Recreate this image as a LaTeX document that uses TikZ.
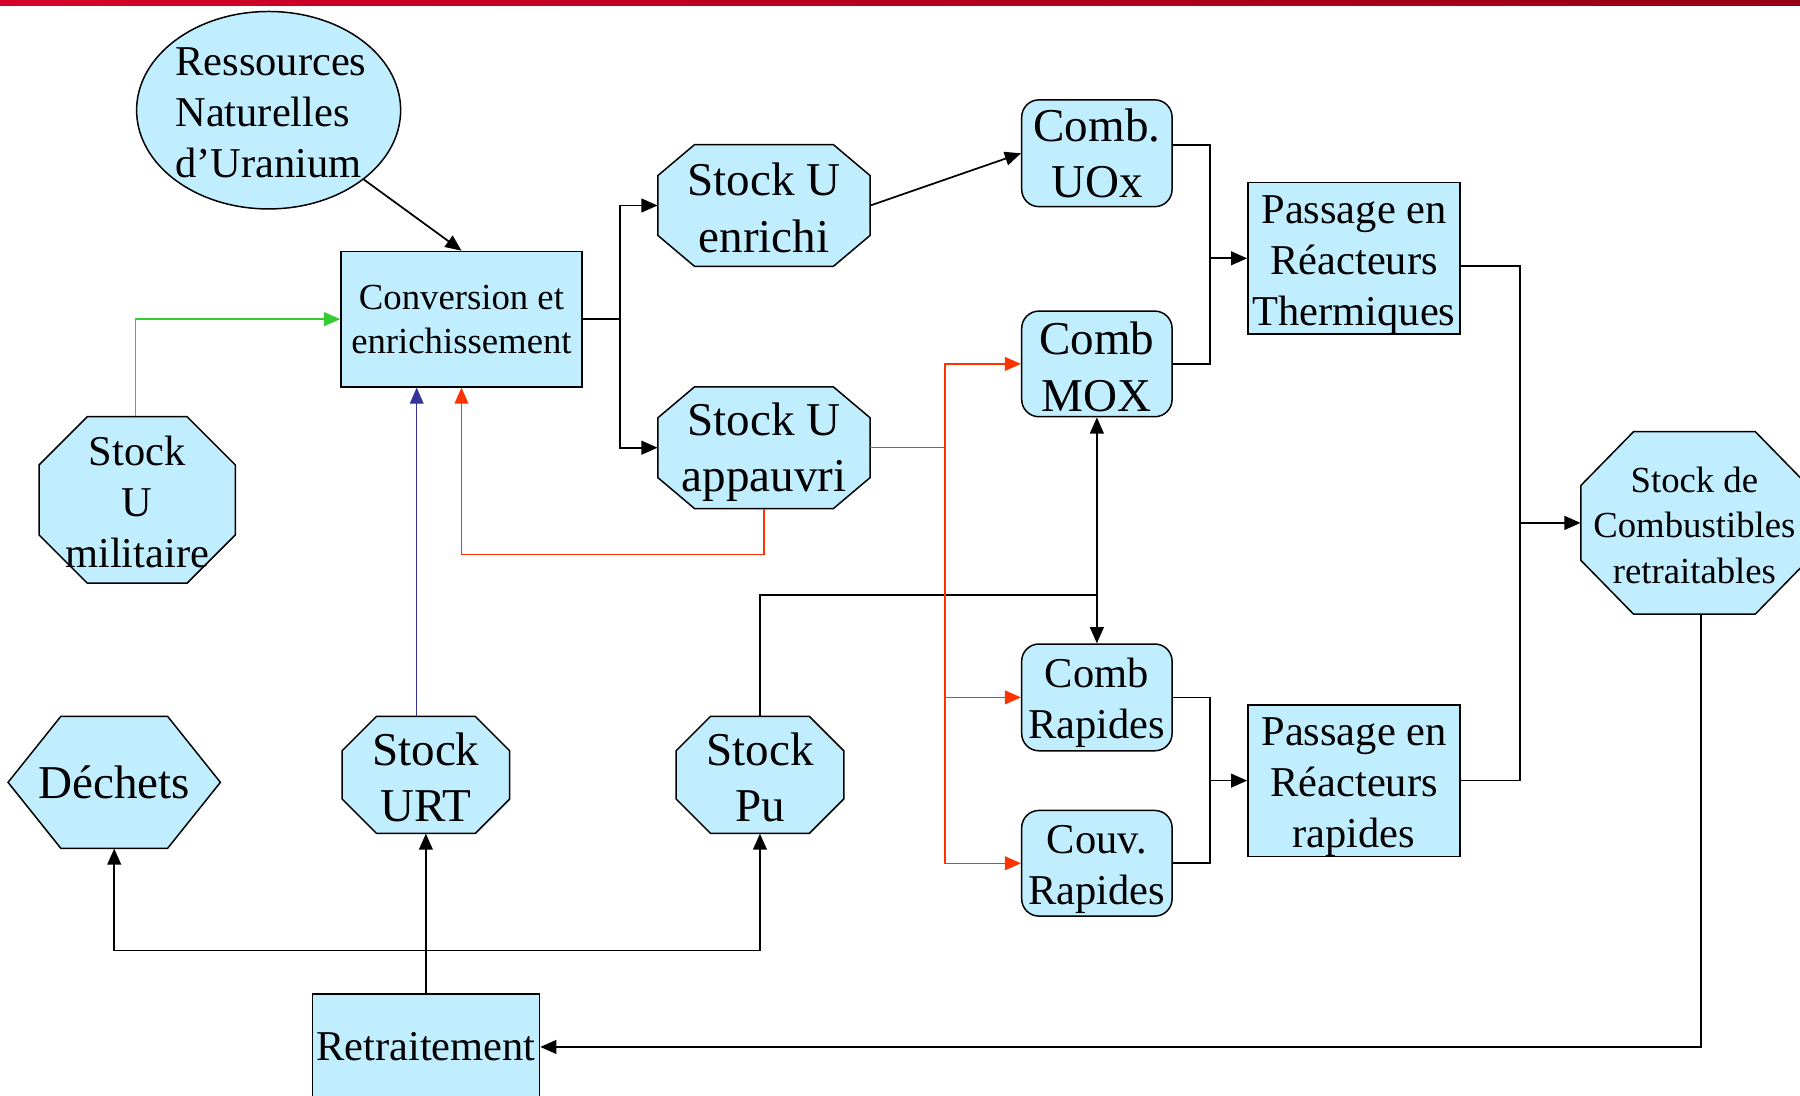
\documentclass[tikz,border=0pt]{standalone}
\usepackage{fontspec}
\setmainfont{Liberation Serif}
\usetikzlibrary{arrows.meta,shapes.geometric}

\definecolor{boxfill}{RGB}{192,238,255}
\definecolor{flowred}{RGB}{255,51,0}
\definecolor{flowblue}{RGB}{51,51,153}
\definecolor{flowgreen}{RGB}{51,204,51}
\definecolor{barleft}{RGB}{214,0,42}
\definecolor{barright}{RGB}{150,0,20}

\tikzset{
  shapeline/.style={draw=black, line width=1.3pt, fill=boxfill},
  txtA/.style={font=\fontsize{41}{49}\selectfont, align=center, inner sep=0pt},
  txtB/.style={font=\fontsize{37}{44.5}\selectfont, align=center, inner sep=0pt},
  txtC/.style={font=\fontsize{32}{38.5}\selectfont, align=center, inner sep=0pt},
  flow/.style={draw=black, line width=1.5pt},
  redflow/.style={draw=flowred, line width=1.3pt},
  blueflow/.style={draw=flowblue, line width=1pt},
  greenflow/.style={draw=flowgreen, line width=1.3pt},
  tip/.style={-{Triangle[length=14pt,width=12pt]}},
}

% octagon with chamfered corners: cx, cy, half width, half height, cut x, cut y
\newcommand\drawoct[6]{%
  \path[shapeline] ({#1-#3+#5},{#2-#4}) -- ({#1+#3-#5},{#2-#4})
    -- ({#1+#3},{#2-#4+#6}) -- ({#1+#3},{#2+#4-#6})
    -- ({#1+#3-#5},{#2+#4}) -- ({#1-#3+#5},{#2+#4})
    -- ({#1-#3},{#2+#4-#6}) -- ({#1-#3},{#2-#4+#6}) -- cycle;}
% hexagon with pointed sides: cx, cy, half width, half height, cut x
\newcommand\drawhex[5]{%
  \path[shapeline] ({#1-#3+#5},{#2-#4}) -- ({#1+#3-#5},{#2-#4})
    -- ({#1+#3},{#2}) -- ({#1+#3-#5},{#2+#4})
    -- ({#1-#3+#5},{#2+#4}) -- ({#1-#3},{#2}) -- cycle;}

\begin{document}
\begin{tikzpicture}[x=1pt,y=-1pt]
\useasboundingbox (0,0) rectangle (1568,954);
\clip (0,0) rectangle (1568,954);
\fill[white] (0,0) rectangle (1568,954);
\shade[left color=barleft, right color=barright] (0,0) rectangle (1568,5);

% ---- shapes ----
\node[shapeline, ellipse, minimum width=230pt, minimum height=172pt, inner sep=0pt] (res) at (234,96) {};
\node[txtB, align=left] at (236,98) {Ressources\\Naturelles\\d’Uranium};

\node[shapeline, rectangle, minimum width=210pt, minimum height=118pt, txtC] (conv) at (402,278) {Conversion et\\enrichissement};

\drawoct{665.5}{179}{92.5}{53}{32}{27}
\node[minimum width=185pt, minimum height=106pt] (enr) at (665.5,179) {};
\node[txtA] at (665.5,181) {Stock U\\enrichi};
\drawoct{665.5}{390}{92.5}{53}{32}{27}
\node[minimum width=185pt, minimum height=106pt] (app) at (665.5,390) {};
\node[txtA] at (665.5,394) {Stock U\\appauvri};
\drawoct{119.5}{435.5}{85.5}{72.5}{42}{42}
\node[minimum width=171pt, minimum height=145pt] (mil) at (119.5,435.5) {};
\node[txtB] at (119.5,437.5) {Stock\\U\\militaire};

\node[shapeline, rectangle, rounded corners=15pt, minimum width=131pt, minimum height=93pt, txtA] (uox) at (955.5,133.5) {Comb.\\UOx};
\node[shapeline, rectangle, rounded corners=15pt, minimum width=131pt, minimum height=92pt] (mox) at (955.5,317) {};
\node[txtA] at (955.5,319.5) {Comb\\MOX};
\node[shapeline, rectangle, rounded corners=15pt, minimum width=131pt, minimum height=93pt] (rap) at (955.5,607.5) {};
\node[txtB] at (955.5,612.5) {Comb\\Rapides};
\node[shapeline, rectangle, rounded corners=15pt, minimum width=131pt, minimum height=92pt] (couv) at (955.5,752) {};
\node[txtB] at (955.5,757) {Couv.\\Rapides};

\node[shapeline, rectangle, minimum width=185pt, minimum height=132pt] (therm) at (1179.5,225) {};
\node[txtB] at (1179.5,231) {Passage en\\Réacteurs\\Thermiques};
\node[shapeline, rectangle, minimum width=185pt, minimum height=132pt] (frap) at (1179.5,680) {};
\node[txtB] at (1179.5,686) {Passage en\\Réacteurs\\rapides};

\drawoct{1476}{455.5}{99}{79.5}{46}{47}
\node[minimum width=198pt, minimum height=159pt] (scr) at (1476,455.5) {};
\node[txtC, font=\fontsize{32}{39.5}\selectfont] at (1476,457.5) {Stock de\\Combustibles\\retraitables};

\drawhex{99.5}{681.5}{92.5}{57.5}{46}
\node[txtA, minimum width=185pt, minimum height=115pt] (dech) at (99.5,681.5) {Déchets};
\drawoct{371}{675}{73}{51}{30}{30}
\node[minimum width=146pt, minimum height=102pt] (urt) at (371,675) {};
\node[txtA] at (371,677) {Stock\\URT};
\drawoct{662}{675}{73}{51}{30}{30}
\node[minimum width=146pt, minimum height=102pt] (pu) at (662,675) {};
\node[txtA] at (662,677) {Stock\\Pu};

\node[shapeline, rectangle, minimum width=198pt, minimum height=92pt, txtB] (retr) at (371,912) {Retraitement};

% ---- junctions ----
\coordinate (j1) at (540,278);
\coordinate (j2) at (1054,225);
\coordinate (j3) at (1054,680);
\coordinate (j4) at (1324,455.5);
\coordinate (j5) at (371,828);
\coordinate (j6) at (955.5,518);
\coordinate (j7) at (823,390);

% ---- black flows ----
\draw[flow, tip] (res) -- (conv.north);
\draw[flow] (conv.east) -- (j1);
\draw[flow, tip] (j1) |- (enr.west);
\draw[flow, tip] (j1) |- (app.west);
\draw[flow, tip] (enr.east) -- (uox.west);
\draw[flow] ([yshift=7.5pt]uox.east) -| (j2) |- (mox.east);
\draw[flow, tip] (j2) -- (therm.west);
\draw[flow] (rap.east) -| (j3) |- (couv.east);
\draw[flow, tip] (j3) -- (frap.west);
\draw[flow] ([yshift=-7pt]therm.east) -| (j4) |- (frap.east);
\draw[flow, tip] (j4) -- (scr.west);
\draw[flow, tip] ([xshift=6pt]scr.south) |- (retr.east);
\draw[flow, tip] (retr.north) -- (urt.south);
\draw[flow, tip] (j5) -| (dech.south);
\draw[flow, tip] (j5) -| (pu.south);
\draw[flow] (pu.north) |- (j6);
\draw[flow, tip] (j6) -- (mox.south);
\draw[flow, tip] (j6) -- (rap.north);

% ---- coloured flows ----
\draw[redflow, tip] (app.south) -- ++(0,40) -| (conv.south);
\draw[redflow] (app.east) -- (j7);
\draw[redflow, tip] (j7) |- (mox.west);
\draw[redflow, tip] (j7) |- (rap.west);
\draw[redflow, tip] (j7) |- (couv.west);
\draw[blueflow, tip] ([xshift=-8pt]urt.north) -- ([xshift=-8pt]urt.north |- conv.south);
\draw[greenflow, tip] ([xshift=-1.5pt]mil.north) |- (conv.west);
\end{tikzpicture}
\end{document}
